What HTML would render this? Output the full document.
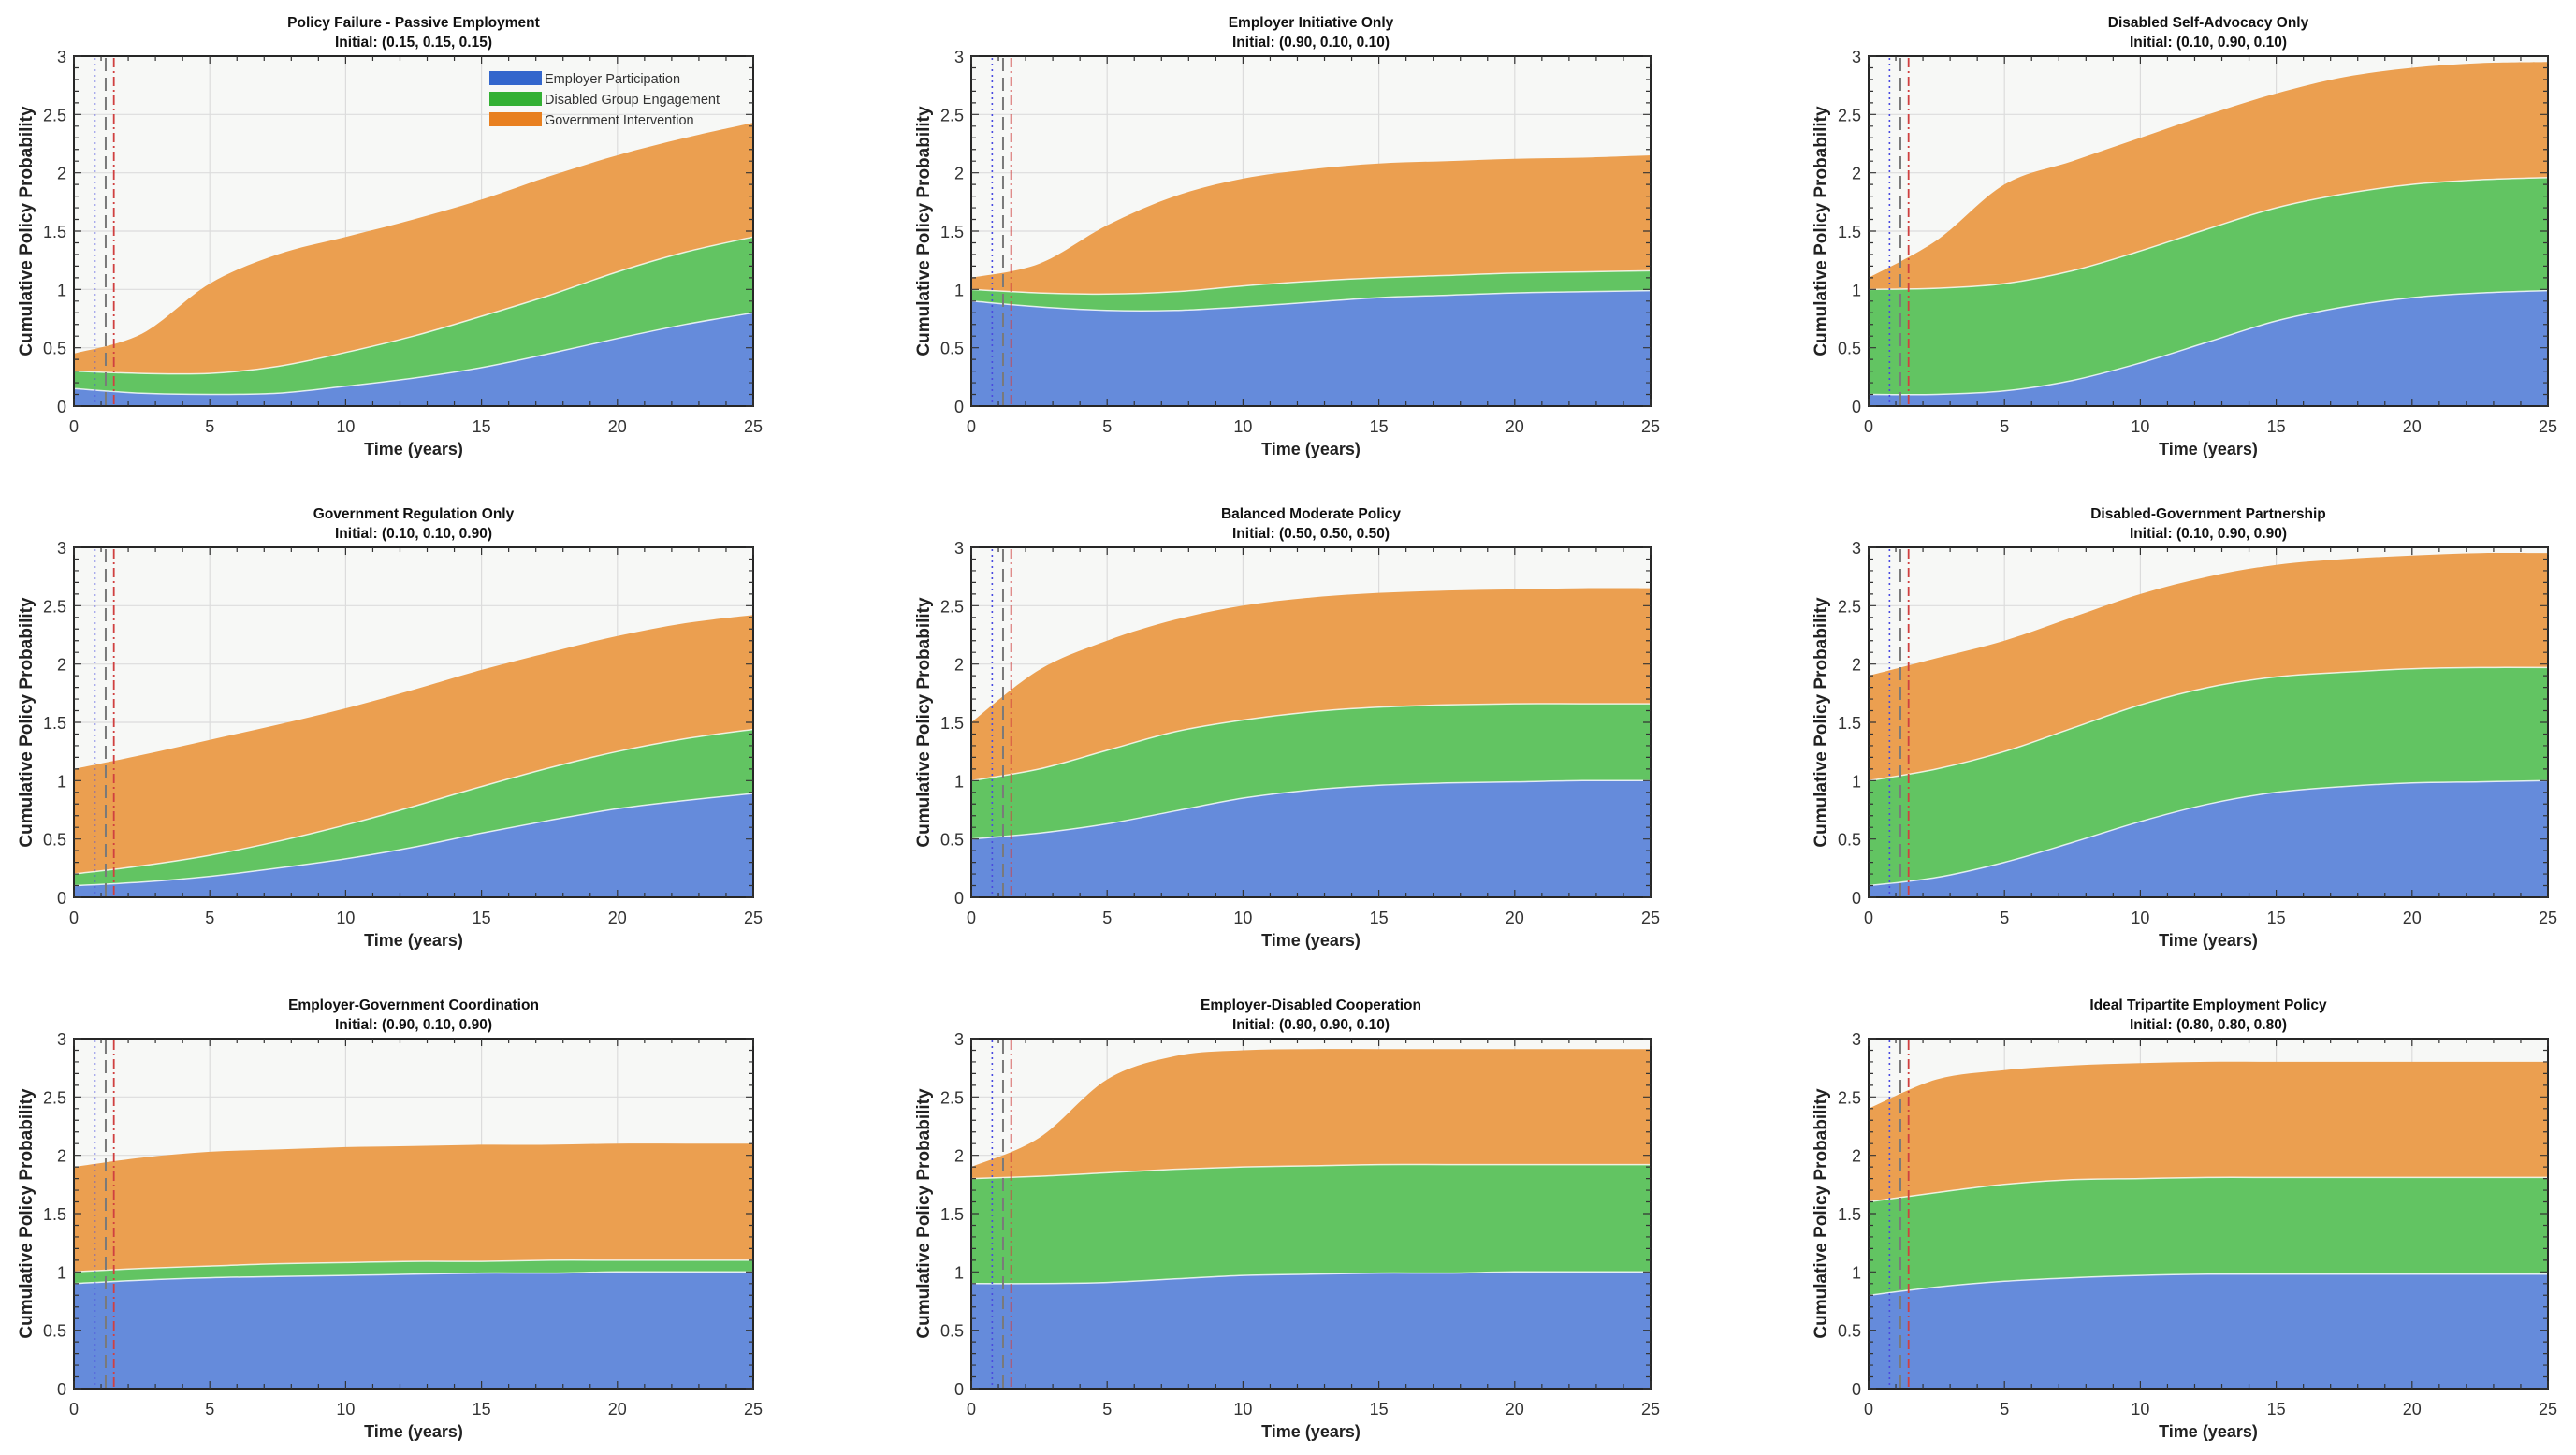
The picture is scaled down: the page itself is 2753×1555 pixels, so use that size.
<!DOCTYPE html>
<html><head><meta charset="utf-8">
<style>
html,body{margin:0;padding:0;background:#fff;}
svg{display:block;font-family:"Liberation Sans",Arial,sans-serif;}
</style></head>
<body>
<svg id="fig" width="2753" height="1555" viewBox="0 0 2753 1555" xmlns="http://www.w3.org/2000/svg"></svg>
<script>
// Data
const times = [0,2.5,5,7.5,10,12.5,15,17.5,20,22.5,25];
const titles = ["Policy Failure - Passive Employment","Employer Initiative Only","Disabled Self-Advocacy Only","Government Regulation Only","Balanced Moderate Policy","Disabled-Government Partnership","Employer-Government Coordination","Employer-Disabled Cooperation","Ideal Tripartite Employment Policy"];
const initials = ["(0.15, 0.15, 0.15)","(0.90, 0.10, 0.10)","(0.10, 0.90, 0.10)","(0.10, 0.10, 0.90)","(0.50, 0.50, 0.50)","(0.10, 0.90, 0.90)","(0.90, 0.10, 0.90)","(0.90, 0.90, 0.10)","(0.80, 0.80, 0.80)"];
// cumulative stack levels: employer, employer+disabled, employer+disabled+government
const employerCum = [
[0.15,0.11,0.10,0.11,0.17,0.24,0.33,0.45,0.58,0.70,0.80],
[0.90,0.85,0.82,0.82,0.85,0.89,0.93,0.95,0.97,0.98,0.99],
[0.10,0.10,0.13,0.22,0.37,0.55,0.73,0.85,0.93,0.97,0.99],
[0.10,0.13,0.18,0.25,0.33,0.43,0.55,0.66,0.76,0.83,0.89],
[0.50,0.55,0.63,0.74,0.85,0.92,0.96,0.98,0.99,1.00,1.00],
[0.10,0.17,0.30,0.47,0.65,0.80,0.90,0.95,0.98,0.99,1.00],
[0.90,0.93,0.95,0.96,0.97,0.98,0.99,0.99,1.00,1.00,1.00],
[0.90,0.90,0.91,0.94,0.97,0.98,0.99,0.99,1.00,1.00,1.00],
[0.80,0.87,0.92,0.95,0.97,0.98,0.98,0.98,0.98,0.98,0.98]];
const disabledCum = [
[0.30,0.28,0.28,0.34,0.46,0.60,0.77,0.95,1.15,1.32,1.45],
[1.00,0.97,0.96,0.98,1.03,1.07,1.10,1.12,1.14,1.15,1.16],
[1.00,1.01,1.05,1.16,1.33,1.52,1.70,1.82,1.90,1.94,1.96],
[0.20,0.27,0.36,0.48,0.62,0.78,0.95,1.11,1.25,1.36,1.44],
[1.00,1.10,1.26,1.42,1.52,1.59,1.63,1.65,1.66,1.66,1.66],
[1.00,1.10,1.25,1.45,1.65,1.80,1.89,1.93,1.96,1.97,1.97],
[1.00,1.03,1.05,1.07,1.08,1.09,1.09,1.10,1.10,1.10,1.10],
[1.80,1.82,1.85,1.88,1.90,1.91,1.92,1.92,1.92,1.92,1.92],
[1.60,1.68,1.75,1.79,1.80,1.81,1.81,1.81,1.81,1.81,1.81]];
const governmentCum = [
[0.45,0.62,1.05,1.30,1.45,1.60,1.77,1.97,2.15,2.30,2.43],
[1.10,1.22,1.55,1.80,1.95,2.03,2.08,2.10,2.12,2.13,2.15],
[1.10,1.42,1.90,2.10,2.30,2.50,2.68,2.82,2.90,2.94,2.95],
[1.10,1.22,1.35,1.48,1.62,1.78,1.95,2.10,2.24,2.35,2.42],
[1.50,1.95,2.20,2.38,2.50,2.57,2.61,2.63,2.64,2.65,2.65],
[1.90,2.05,2.20,2.40,2.60,2.75,2.85,2.90,2.93,2.95,2.95],
[1.90,1.98,2.03,2.05,2.07,2.08,2.09,2.09,2.10,2.10,2.10],
[1.90,2.15,2.65,2.85,2.90,2.91,2.91,2.91,2.91,2.91,2.91],
[2.40,2.65,2.73,2.77,2.79,2.80,2.80,2.80,2.80,2.80,2.80]];
const xTicks = [0,5,10,15,20,25];
const yTicks = [0,0.5,1,1.5,2,2.5,3];
const yTickLabels = ["0","0.5","1","1.5","2","2.5","3"];
const refLines = [0.77,1.17,1.47];
const legendLabels = ["Employer Participation","Disabled Group Engagement","Government Intervention"];

const NS="http://www.w3.org/2000/svg";
const svg=document.getElementById('fig');
function mk(tag,attrs,parent){const e=document.createElementNS(NS,tag);for(const k in attrs)e.setAttribute(k,attrs[k]);(parent||svg).appendChild(e);return e;}
const W=726,H=374,L0=79,T0=60,DX=959,DY=525;
const colors=["#658bdb","#62c462","#eb9f50"];

function smooth(pts){
  let d="";
  for(let i=0;i<pts.length-1;i++){
    const p0=pts[Math.max(0,i-1)],p1=pts[i],p2=pts[i+1],p3=pts[Math.min(pts.length-1,i+2)];
    const c1=[p1[0]+(p2[0]-p0[0])/6,p1[1]+(p2[1]-p0[1])/6];
    const c2=[p2[0]-(p3[0]-p1[0])/6,p2[1]-(p3[1]-p1[1])/6];
    d+=` C${c1[0].toFixed(1)},${c1[1].toFixed(1)} ${c2[0].toFixed(1)},${c2[1].toFixed(1)} ${p2[0].toFixed(1)},${p2[1].toFixed(1)}`;
  }
  return d;
}

for(let p=0;p<9;p++){
  const L=L0+(p%3)*DX, T=T0+Math.floor(p/3)*DY;
  const xs=t=>L+t/25*W, ys=v=>T+H-v/3*H;
  const g=mk('g',{});
  
  
  const bg=mk('rect',{x:L,y:T,width:W,height:H,fill:'#f7f8f6'},g);
  
  
  xTicks.forEach(t=>{const l=mk('line',{x1:xs(t),x2:xs(t),y1:T,y2:T+H,stroke:'#dcdcdc','stroke-width':1.2},g);});
  yTicks.forEach(v=>{const l=mk('line',{x1:L,x2:L+W,y1:ys(v),y2:ys(v),stroke:'#dcdcdc','stroke-width':1.2},g);});
  const levels=[employerCum[p],disabledCum[p],governmentCum[p]];
  const names=['area-employer','area-disabled','area-government'];
  for(let s=2;s>=0;s--){
    const top=times.map((t,i)=>[xs(t),ys(levels[s][i])]);
    const bot=s===0?null:times.map((t,i)=>[xs(t),ys(levels[s-1][i])]).reverse();
    let d=`M${top[0][0]},${top[0][1]}`+smooth(top);
    if(bot){d+=` L${bot[0][0]},${bot[0][1]}`+smooth(bot);} else {d+=` L${xs(25)},${ys(0)} L${xs(0)},${ys(0)}`;}
    d+=" Z";
    const a=mk('path',{d:d,fill:colors[s]},g);
    
    
    if(s<2){const ln=mk('path',{d:`M${top[0][0]},${top[0][1]}`+smooth(top),fill:'none',stroke:'#ffffff','stroke-width':1.5,'stroke-opacity':0.8},g);}
  }
  const rs=[{c:'#4a4ae0',da:'2,4',w:1.6},{c:'#7a7a7a',da:'14,7',w:2},{c:'#d04040',da:'10,4,2,4',w:1.8}];
  refLines.forEach((t,i)=>{const l=mk('line',{x1:xs(t),x2:xs(t),y1:T+2,y2:T+H,stroke:rs[i].c,'stroke-dasharray':rs[i].da,'stroke-width':rs[i].w},g);});
  const fr=mk('rect',{x:L,y:T,width:W,height:H,fill:'none',stroke:'#262626','stroke-width':2},g);
  
  
  let tk="";
  for(let t=0;t<=25;t++){const x=xs(t);const len=t%5===0?8:5;tk+=`M${x},${T+H}v${-len}M${x},${T}v${len}`;}
  for(let k=0;k<=30;k++){const y=ys(k/10);const len=k%5===0?8:5;tk+=`M${L},${y}h${len}M${L+W},${y}h${-len}`;}
  const ticks=mk('path',{d:tk,stroke:'#333','stroke-width':1.2,fill:'none'},g);
  
  
  xTicks.forEach(t=>{const e=mk('text',{x:xs(t),y:T+H+28,'font-size':18,fill:'#333','text-anchor':'middle'},g);e.textContent=String(t);});
  yTicks.forEach((v,i)=>{const e=mk('text',{x:L-8,y:ys(v)+7,'font-size':18,fill:'#333','text-anchor':'end'},g);e.textContent=yTickLabels[i];});
  const xl=mk('text',{x:L+W/2,y:T+H+52,'font-size':18,'font-weight':'bold',fill:'#222','text-anchor':'middle'},g);
  xl.textContent="Time (years)";
  
  
  const yl=mk('text',{x:0,y:0,'font-size':19,'font-weight':'bold',fill:'#222','text-anchor':'middle',transform:`translate(${L-45},${T+H/2}) rotate(-90)`},g);
  yl.textContent="Cumulative Policy Probability";
  
  
  const t1=mk('text',{x:L+W/2,y:T-31,'font-size':15.5,'font-weight':'bold',fill:'#111','text-anchor':'middle'},g);
  t1.textContent=titles[p];
  
  
  const t2=mk('text',{x:L+W/2,y:T-10,'font-size':15.5,'font-weight':'bold',fill:'#111','text-anchor':'middle'},g);
  t2.textContent="Initial: "+initials[p];
  
  
  if(p===0){
    const lg=mk('g',{},g);
    
    
    const lc=["#3366cc","#33b033","#e88020"];
    legendLabels.forEach((lab,i)=>{
      const y=76+i*22;
      const r=mk('rect',{x:523,y:y,width:56,height:15,fill:lc[i]},lg);
      
      
      const tx=mk('text',{x:582,y:y+13,'font-size':14.5,fill:'#333'},lg);
      tx.textContent=lab;
      
      
    });
  }
}
</script>
</body></html>
